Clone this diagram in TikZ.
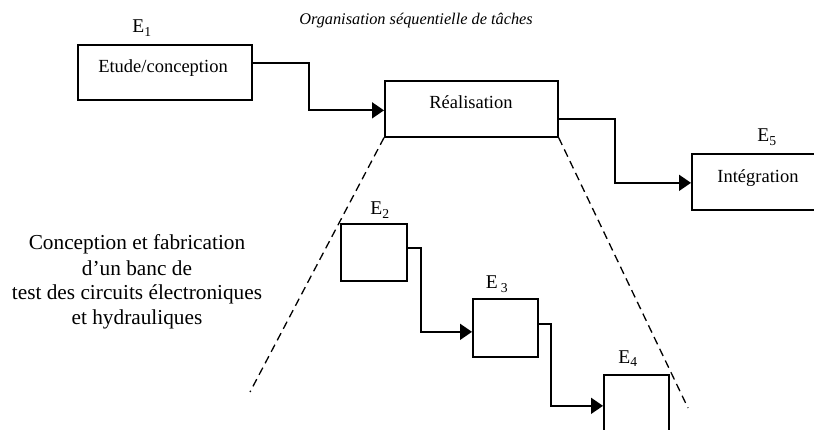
\documentclass[tikz,border=0pt]{standalone}
\usepackage{fontspec}
\setmainfont{Liberation Serif}
\usetikzlibrary{arrows.meta,positioning,calc}

\begin{document}
\begin{tikzpicture}[
  x=1pt, y=-1pt,
  box/.style={
      draw,
      line width=1.7pt,
      inner sep=0pt,
      anchor=north west
    },
  boxtext/.style={
      anchor=base,
      font=\fontsize{18.5}{22}\selectfont
    },
  conn/.style={
      arrows = {-Triangle[length=12pt,width=16pt]},
      line width=1.7pt,
      line join=miter
    },
  zoomline/.style={
      line width=1.3pt,
      dash pattern=on 8pt off 5pt
    },
  label/.style={
      anchor=base,
      font=\fontsize{19.5}{23}\selectfont
    }]
  \useasboundingbox (0,0) rectangle (814,430);

  % top row
  \node [anchor=base, font=\fontsize{16.3}{19}\selectfont\itshape] (titre) at (416,25)
    {Organisation séquentielle de tâches};
  \node [box, minimum width=174pt, minimum height=55pt] (etude) at (77,44) {};
  \node [boxtext] (etude txt) at (163,73) {Etude/conception};
  \node [box, minimum width=173pt, minimum height=56pt] (realisation) at (384,80) {};
  \node [boxtext] (realisation txt) at (471,109) {Réalisation};
  \node [box, minimum width=140pt, minimum height=56pt] (integration) at (691,153) {};
  \node [boxtext] (integration txt) at (758,183) {Intégration};

  \node [label] (e1) at (142,33) {E\textsubscript{1}};
  \node [label] (e5) at (767,142) {E\textsubscript{5}};

  \draw [conn] ([yshift=9pt]etude.east) -- ++(56,0) |- ([yshift=-1.5pt]realisation.west);
  \draw [conn] ([yshift=-10pt]realisation.east) -- ++(56,0) |- ([yshift=-1pt]integration.west);

  % detail of the realisation
  \coordinate (bas gauche) at (250,392);
  \coordinate (bas droite) at (688,408);
  \draw [zoomline] (realisation.south west) -- (bas gauche);
  \draw [zoomline] (realisation.south east) -- (bas droite);

  \node [box, minimum width=66pt, minimum height=57pt] (etape2) at (340,223) {};
  \node [box, minimum width=65pt, minimum height=58pt] (etape3) at (472,298) {};
  \node [box, minimum width=65pt, minimum height=58pt] (etape4) at (603,374) {};

  \node [label] (e2) at (380,215) {E\textsubscript{2}};
  \node [label] (e3) at (497,289) {E\,\textsubscript{3}};
  \node [label] (e4) at (628,363) {E\textsubscript{4}};

  \draw [conn] ([yshift=4pt]etape2.east) -- ++(13,0) |- ([yshift=-4pt]etape3.west);
  \draw [conn] ([yshift=4pt]etape3.east) -- ++(12,0) |- ([yshift=-2pt]etape4.west);

  % base of a multi-line node is its last line
  \node [anchor=base, align=center, font=\fontsize{21.3}{25}\selectfont] (projet) at (137,325)
    {Conception et fabrication\\d’un banc de\\test des circuits électroniques\\et hydrauliques};
\end{tikzpicture}
\end{document}
